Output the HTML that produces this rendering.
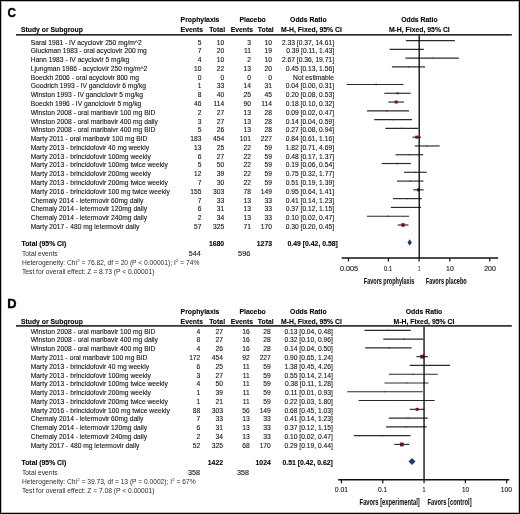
<!DOCTYPE html>
<html><head><meta charset="utf-8"><style>
html,body{margin:0;padding:0;background:#fff;}
body{width:520px;height:514px;overflow:hidden;}
svg{display:block;font-family:"Liberation Sans",sans-serif;will-change:transform;}
text{stroke:#111;stroke-width:0.1px;}
</style></head><body>
<svg width="520" height="514" viewBox="0 0 520 514">
<rect x="0" y="0" width="520" height="514" fill="#fff"/>
<text x="7.62" y="16.80" font-size="12.6" font-weight="bold" text-anchor="start" fill="#000" textLength="8.50" lengthAdjust="spacingAndGlyphs" style="stroke:#000;stroke-width:0.35px">C</text>
<text x="180.60" y="22.00" font-size="6.85" font-weight="bold" text-anchor="start" fill="#000" >Prophylaxis</text>
<text x="239.50" y="22.00" font-size="6.85" font-weight="bold" text-anchor="start" fill="#000" >Placebo</text>
<text x="290.10" y="22.00" font-size="6.85" font-weight="bold" text-anchor="start" fill="#000" >Odds Ratio</text>
<text x="401.20" y="22.00" font-size="6.85" font-weight="bold" text-anchor="start" fill="#000" >Odds Ratio</text>
<text x="20.90" y="32.10" font-size="6.85" font-weight="bold" text-anchor="start" fill="#000" >Study or Subgroup</text>
<text x="180.60" y="32.10" font-size="6.85" font-weight="bold" text-anchor="start" fill="#000" >Events</text>
<text x="209.20" y="32.10" font-size="6.85" font-weight="bold" text-anchor="start" fill="#000" >Total</text>
<text x="230.70" y="32.10" font-size="6.85" font-weight="bold" text-anchor="start" fill="#000" >Events</text>
<text x="257.80" y="32.10" font-size="6.85" font-weight="bold" text-anchor="start" fill="#000" >Total</text>
<text x="281.10" y="32.10" font-size="6.85" font-weight="bold" text-anchor="start" fill="#000" >M-H, Fixed, 95% CI</text>
<text x="388.90" y="32.10" font-size="6.85" font-weight="bold" text-anchor="start" fill="#000" >M-H, Fixed, 95% CI</text>
<rect x="16.00" y="34.00" width="495.80" height="1.60" fill="#222"/>
<text x="30.80" y="44.50" font-size="6.7" font-weight="normal" text-anchor="start" fill="#111" >Saral 1981 - IV acyclovir 250 mg/m^2</text>
<text x="201.50" y="44.50" font-size="6.7" font-weight="normal" text-anchor="end" fill="#111" >5</text>
<text x="224.20" y="44.50" font-size="6.7" font-weight="normal" text-anchor="end" fill="#111" >10</text>
<text x="251.00" y="44.50" font-size="6.7" font-weight="normal" text-anchor="end" fill="#111" >3</text>
<text x="272.00" y="44.50" font-size="6.7" font-weight="normal" text-anchor="end" fill="#111" >10</text>
<text x="334.00" y="44.50" font-size="6.7" font-weight="normal" text-anchor="end" fill="#111" >2.33 [0.37, 14.61]</text>
<line x1="405.84" y1="40.60" x2="454.85" y2="40.60" stroke="#2a2a2a" stroke-width="1.15"/>
<rect x="429.88" y="40.10" width="1.00" height="1.00" fill="#6e1030"/>
<text x="30.80" y="53.28" font-size="6.7" font-weight="normal" text-anchor="start" fill="#111" >Gluckman 1983 - oral acyclovir 200 mg</text>
<text x="201.50" y="53.28" font-size="6.7" font-weight="normal" text-anchor="end" fill="#111" >7</text>
<text x="224.20" y="53.28" font-size="6.7" font-weight="normal" text-anchor="end" fill="#111" >20</text>
<text x="251.00" y="53.28" font-size="6.7" font-weight="normal" text-anchor="end" fill="#111" >11</text>
<text x="272.00" y="53.28" font-size="6.7" font-weight="normal" text-anchor="end" fill="#111" >19</text>
<text x="334.00" y="53.28" font-size="6.7" font-weight="normal" text-anchor="end" fill="#111" >0.39 [0.11, 1.43]</text>
<line x1="389.67" y1="49.38" x2="423.87" y2="49.38" stroke="#2a2a2a" stroke-width="1.15"/>
<rect x="406.05" y="48.88" width="1.00" height="1.00" fill="#6e1030"/>
<text x="30.80" y="62.06" font-size="6.7" font-weight="normal" text-anchor="start" fill="#111" >Hann 1983 - IV acyclovir 5 mg/kg</text>
<text x="201.50" y="62.06" font-size="6.7" font-weight="normal" text-anchor="end" fill="#111" >4</text>
<text x="224.20" y="62.06" font-size="6.7" font-weight="normal" text-anchor="end" fill="#111" >10</text>
<text x="251.00" y="62.06" font-size="6.7" font-weight="normal" text-anchor="end" fill="#111" >2</text>
<text x="272.00" y="62.06" font-size="6.7" font-weight="normal" text-anchor="end" fill="#111" >10</text>
<text x="334.00" y="62.06" font-size="6.7" font-weight="normal" text-anchor="end" fill="#111" >2.67 [0.36, 19.71]</text>
<line x1="405.48" y1="58.16" x2="458.85" y2="58.16" stroke="#2a2a2a" stroke-width="1.15"/>
<rect x="431.69" y="57.66" width="1.00" height="1.00" fill="#6e1030"/>
<text x="30.80" y="70.84" font-size="6.7" font-weight="normal" text-anchor="start" fill="#111" >Ljungman 1986 - acyclovir 250 mg/m^2</text>
<text x="201.50" y="70.84" font-size="6.7" font-weight="normal" text-anchor="end" fill="#111" >10</text>
<text x="224.20" y="70.84" font-size="6.7" font-weight="normal" text-anchor="end" fill="#111" >22</text>
<text x="251.00" y="70.84" font-size="6.7" font-weight="normal" text-anchor="end" fill="#111" >13</text>
<text x="272.00" y="70.84" font-size="6.7" font-weight="normal" text-anchor="end" fill="#111" >20</text>
<text x="334.00" y="70.84" font-size="6.7" font-weight="normal" text-anchor="end" fill="#111" >0.45 [0.13, 1.56]</text>
<line x1="391.90" y1="66.94" x2="425.03" y2="66.94" stroke="#2a2a2a" stroke-width="1.15"/>
<rect x="407.95" y="66.44" width="1.00" height="1.00" fill="#6e1030"/>
<text x="30.80" y="79.62" font-size="6.7" font-weight="normal" text-anchor="start" fill="#111" >Boeckh 2006 -  oral acyclovir 800 mg</text>
<text x="201.50" y="79.62" font-size="6.7" font-weight="normal" text-anchor="end" fill="#111" >0</text>
<text x="224.20" y="79.62" font-size="6.7" font-weight="normal" text-anchor="end" fill="#111" >0</text>
<text x="251.00" y="79.62" font-size="6.7" font-weight="normal" text-anchor="end" fill="#111" >0</text>
<text x="272.00" y="79.62" font-size="6.7" font-weight="normal" text-anchor="end" fill="#111" >0</text>
<text x="334.00" y="79.62" font-size="6.7" font-weight="normal" text-anchor="end" fill="#111" >Not estimable</text>
<text x="30.80" y="88.40" font-size="6.7" font-weight="normal" text-anchor="start" fill="#111" >Goodrich 1993 - IV ganciclovir 6 mg/kg</text>
<text x="201.50" y="88.40" font-size="6.7" font-weight="normal" text-anchor="end" fill="#111" >1</text>
<text x="224.20" y="88.40" font-size="6.7" font-weight="normal" text-anchor="end" fill="#111" >33</text>
<text x="251.00" y="88.40" font-size="6.7" font-weight="normal" text-anchor="end" fill="#111" >14</text>
<text x="272.00" y="88.40" font-size="6.7" font-weight="normal" text-anchor="end" fill="#111" >31</text>
<text x="334.00" y="88.40" font-size="6.7" font-weight="normal" text-anchor="end" fill="#111" >0.04 [0.00, 0.31]</text>
<line x1="346.60" y1="84.50" x2="403.48" y2="84.50" stroke="#2a2a2a" stroke-width="1.15"/>
<rect x="375.43" y="83.75" width="1.50" height="1.50" fill="#6e1030"/>
<text x="30.80" y="97.18" font-size="6.7" font-weight="normal" text-anchor="start" fill="#111" >Winston 1993 - IV ganciclovir 5 mg/kg</text>
<text x="201.50" y="97.18" font-size="6.7" font-weight="normal" text-anchor="end" fill="#111" >8</text>
<text x="224.20" y="97.18" font-size="6.7" font-weight="normal" text-anchor="end" fill="#111" >40</text>
<text x="251.00" y="97.18" font-size="6.7" font-weight="normal" text-anchor="end" fill="#111" >25</text>
<text x="272.00" y="97.18" font-size="6.7" font-weight="normal" text-anchor="end" fill="#111" >45</text>
<text x="334.00" y="97.18" font-size="6.7" font-weight="normal" text-anchor="end" fill="#111" >0.20 [0.08, 0.53]</text>
<line x1="384.30" y1="93.28" x2="410.64" y2="93.28" stroke="#2a2a2a" stroke-width="1.15"/>
<rect x="396.64" y="92.28" width="2.00" height="2.00" fill="#6e1030"/>
<text x="30.80" y="105.96" font-size="6.7" font-weight="normal" text-anchor="start" fill="#111" >Boeckh 1996 - IV ganciclovir 5 mg/kg</text>
<text x="201.50" y="105.96" font-size="6.7" font-weight="normal" text-anchor="end" fill="#111" >46</text>
<text x="224.20" y="105.96" font-size="6.7" font-weight="normal" text-anchor="end" fill="#111" >114</text>
<text x="251.00" y="105.96" font-size="6.7" font-weight="normal" text-anchor="end" fill="#111" >90</text>
<text x="272.00" y="105.96" font-size="6.7" font-weight="normal" text-anchor="end" fill="#111" >114</text>
<text x="334.00" y="105.96" font-size="6.7" font-weight="normal" text-anchor="end" fill="#111" >0.18 [0.10, 0.32]</text>
<line x1="388.40" y1="102.06" x2="403.91" y2="102.06" stroke="#2a2a2a" stroke-width="1.15"/>
<rect x="394.74" y="100.56" width="3.00" height="3.00" fill="#6e1030"/>
<text x="30.80" y="114.74" font-size="6.7" font-weight="normal" text-anchor="start" fill="#111" >Winston 2008 - oral maribavir 100 mg BID</text>
<text x="201.50" y="114.74" font-size="6.7" font-weight="normal" text-anchor="end" fill="#111" >2</text>
<text x="224.20" y="114.74" font-size="6.7" font-weight="normal" text-anchor="end" fill="#111" >27</text>
<text x="251.00" y="114.74" font-size="6.7" font-weight="normal" text-anchor="end" fill="#111" >13</text>
<text x="272.00" y="114.74" font-size="6.7" font-weight="normal" text-anchor="end" fill="#111" >28</text>
<text x="334.00" y="114.74" font-size="6.7" font-weight="normal" text-anchor="end" fill="#111" >0.09 [0.02, 0.47]</text>
<line x1="366.94" y1="110.84" x2="409.03" y2="110.84" stroke="#2a2a2a" stroke-width="1.15"/>
<rect x="386.40" y="110.24" width="1.20" height="1.20" fill="#6e1030"/>
<text x="30.80" y="123.52" font-size="6.7" font-weight="normal" text-anchor="start" fill="#111" >Winston 2008 - oral maribavir 400 mg daily</text>
<text x="201.50" y="123.52" font-size="6.7" font-weight="normal" text-anchor="end" fill="#111" >3</text>
<text x="224.20" y="123.52" font-size="6.7" font-weight="normal" text-anchor="end" fill="#111" >27</text>
<text x="251.00" y="123.52" font-size="6.7" font-weight="normal" text-anchor="end" fill="#111" >13</text>
<text x="272.00" y="123.52" font-size="6.7" font-weight="normal" text-anchor="end" fill="#111" >28</text>
<text x="334.00" y="123.52" font-size="6.7" font-weight="normal" text-anchor="end" fill="#111" >0.14 [0.04, 0.59]</text>
<line x1="374.20" y1="119.62" x2="412.07" y2="119.62" stroke="#2a2a2a" stroke-width="1.15"/>
<rect x="392.29" y="119.02" width="1.20" height="1.20" fill="#6e1030"/>
<text x="30.80" y="132.30" font-size="6.7" font-weight="normal" text-anchor="start" fill="#111" >Winston 2008 - oral maribaivr 400 mg BID</text>
<text x="201.50" y="132.30" font-size="6.7" font-weight="normal" text-anchor="end" fill="#111" >5</text>
<text x="224.20" y="132.30" font-size="6.7" font-weight="normal" text-anchor="end" fill="#111" >26</text>
<text x="251.00" y="132.30" font-size="6.7" font-weight="normal" text-anchor="end" fill="#111" >13</text>
<text x="272.00" y="132.30" font-size="6.7" font-weight="normal" text-anchor="end" fill="#111" >28</text>
<text x="334.00" y="132.30" font-size="6.7" font-weight="normal" text-anchor="end" fill="#111" >0.27 [0.08, 0.94]</text>
<line x1="385.42" y1="128.40" x2="418.28" y2="128.40" stroke="#2a2a2a" stroke-width="1.15"/>
<rect x="401.04" y="127.80" width="1.20" height="1.20" fill="#6e1030"/>
<text x="30.80" y="141.08" font-size="6.7" font-weight="normal" text-anchor="start" fill="#111" >Marty 2011 - oral maribavir 100 mg BID</text>
<text x="201.50" y="141.08" font-size="6.7" font-weight="normal" text-anchor="end" fill="#111" >183</text>
<text x="224.20" y="141.08" font-size="6.7" font-weight="normal" text-anchor="end" fill="#111" >454</text>
<text x="251.00" y="141.08" font-size="6.7" font-weight="normal" text-anchor="end" fill="#111" >101</text>
<text x="272.00" y="141.08" font-size="6.7" font-weight="normal" text-anchor="end" fill="#111" >227</text>
<text x="334.00" y="141.08" font-size="6.7" font-weight="normal" text-anchor="end" fill="#111" >0.84 [0.61, 1.16]</text>
<line x1="412.51" y1="137.18" x2="421.08" y2="137.18" stroke="#2a2a2a" stroke-width="1.15"/>
<rect x="415.28" y="135.68" width="3.00" height="3.00" fill="#6e1030"/>
<text x="30.80" y="149.86" font-size="6.7" font-weight="normal" text-anchor="start" fill="#111" >Marty 2013 - brincidofovir 40 mg weekly</text>
<text x="201.50" y="149.86" font-size="6.7" font-weight="normal" text-anchor="end" fill="#111" >13</text>
<text x="224.20" y="149.86" font-size="6.7" font-weight="normal" text-anchor="end" fill="#111" >25</text>
<text x="251.00" y="149.86" font-size="6.7" font-weight="normal" text-anchor="end" fill="#111" >22</text>
<text x="272.00" y="149.86" font-size="6.7" font-weight="normal" text-anchor="end" fill="#111" >59</text>
<text x="334.00" y="149.86" font-size="6.7" font-weight="normal" text-anchor="end" fill="#111" >1.82 [0.71, 4.69]</text>
<line x1="414.53" y1="145.96" x2="439.71" y2="145.96" stroke="#2a2a2a" stroke-width="1.15"/>
<rect x="426.48" y="145.36" width="1.20" height="1.20" fill="#6e1030"/>
<text x="30.80" y="158.64" font-size="6.7" font-weight="normal" text-anchor="start" fill="#111" >Marty 2013 - brincidofovir 100mg weekly</text>
<text x="201.50" y="158.64" font-size="6.7" font-weight="normal" text-anchor="end" fill="#111" >6</text>
<text x="224.20" y="158.64" font-size="6.7" font-weight="normal" text-anchor="end" fill="#111" >27</text>
<text x="251.00" y="158.64" font-size="6.7" font-weight="normal" text-anchor="end" fill="#111" >22</text>
<text x="272.00" y="158.64" font-size="6.7" font-weight="normal" text-anchor="end" fill="#111" >59</text>
<text x="334.00" y="158.64" font-size="6.7" font-weight="normal" text-anchor="end" fill="#111" >0.48 [0.17, 1.37]</text>
<line x1="395.47" y1="154.74" x2="423.30" y2="154.74" stroke="#2a2a2a" stroke-width="1.15"/>
<rect x="408.71" y="154.14" width="1.20" height="1.20" fill="#6e1030"/>
<text x="30.80" y="167.42" font-size="6.7" font-weight="normal" text-anchor="start" fill="#111" >Marty 2013 - brincidofovir 100mg twice weekly</text>
<text x="201.50" y="167.42" font-size="6.7" font-weight="normal" text-anchor="end" fill="#111" >5</text>
<text x="224.20" y="167.42" font-size="6.7" font-weight="normal" text-anchor="end" fill="#111" >50</text>
<text x="251.00" y="167.42" font-size="6.7" font-weight="normal" text-anchor="end" fill="#111" >22</text>
<text x="272.00" y="167.42" font-size="6.7" font-weight="normal" text-anchor="end" fill="#111" >59</text>
<text x="334.00" y="167.42" font-size="6.7" font-weight="normal" text-anchor="end" fill="#111" >0.19 [0.06, 0.54]</text>
<line x1="381.59" y1="163.52" x2="410.88" y2="163.52" stroke="#2a2a2a" stroke-width="1.15"/>
<rect x="396.21" y="162.77" width="1.50" height="1.50" fill="#6e1030"/>
<text x="30.80" y="176.20" font-size="6.7" font-weight="normal" text-anchor="start" fill="#111" >Marty 2013 - brincidofovir 200mg weekly</text>
<text x="201.50" y="176.20" font-size="6.7" font-weight="normal" text-anchor="end" fill="#111" >12</text>
<text x="224.20" y="176.20" font-size="6.7" font-weight="normal" text-anchor="end" fill="#111" >39</text>
<text x="251.00" y="176.20" font-size="6.7" font-weight="normal" text-anchor="end" fill="#111" >22</text>
<text x="272.00" y="176.20" font-size="6.7" font-weight="normal" text-anchor="end" fill="#111" >59</text>
<text x="334.00" y="176.20" font-size="6.7" font-weight="normal" text-anchor="end" fill="#111" >0.75 [0.32, 1.77]</text>
<line x1="403.91" y1="172.30" x2="426.71" y2="172.30" stroke="#2a2a2a" stroke-width="1.15"/>
<rect x="414.66" y="171.70" width="1.20" height="1.20" fill="#6e1030"/>
<text x="30.80" y="184.98" font-size="6.7" font-weight="normal" text-anchor="start" fill="#111" >Marty 2013 - brincidofovir 200mg twice weekly</text>
<text x="201.50" y="184.98" font-size="6.7" font-weight="normal" text-anchor="end" fill="#111" >7</text>
<text x="224.20" y="184.98" font-size="6.7" font-weight="normal" text-anchor="end" fill="#111" >30</text>
<text x="251.00" y="184.98" font-size="6.7" font-weight="normal" text-anchor="end" fill="#111" >22</text>
<text x="272.00" y="184.98" font-size="6.7" font-weight="normal" text-anchor="end" fill="#111" >59</text>
<text x="334.00" y="184.98" font-size="6.7" font-weight="normal" text-anchor="end" fill="#111" >0.51 [0.19, 1.39]</text>
<line x1="396.96" y1="181.08" x2="423.49" y2="181.08" stroke="#2a2a2a" stroke-width="1.15"/>
<rect x="409.52" y="180.48" width="1.20" height="1.20" fill="#6e1030"/>
<text x="30.80" y="193.76" font-size="6.7" font-weight="normal" text-anchor="start" fill="#111" >Marty 2016 - brincidofovir 100 mg twice weekly</text>
<text x="201.50" y="193.76" font-size="6.7" font-weight="normal" text-anchor="end" fill="#111" >155</text>
<text x="224.20" y="193.76" font-size="6.7" font-weight="normal" text-anchor="end" fill="#111" >303</text>
<text x="251.00" y="193.76" font-size="6.7" font-weight="normal" text-anchor="end" fill="#111" >78</text>
<text x="272.00" y="193.76" font-size="6.7" font-weight="normal" text-anchor="end" fill="#111" >149</text>
<text x="334.00" y="193.76" font-size="6.7" font-weight="normal" text-anchor="end" fill="#111" >0.95 [0.64, 1.41]</text>
<line x1="413.15" y1="189.86" x2="423.68" y2="189.86" stroke="#2a2a2a" stroke-width="1.15"/>
<rect x="416.92" y="188.36" width="3.00" height="3.00" fill="#6e1030"/>
<text x="30.80" y="202.54" font-size="6.7" font-weight="normal" text-anchor="start" fill="#111" >Chemaly 2014 - letermovir 60mg daily</text>
<text x="201.50" y="202.54" font-size="6.7" font-weight="normal" text-anchor="end" fill="#111" >7</text>
<text x="224.20" y="202.54" font-size="6.7" font-weight="normal" text-anchor="end" fill="#111" >33</text>
<text x="251.00" y="202.54" font-size="6.7" font-weight="normal" text-anchor="end" fill="#111" >13</text>
<text x="272.00" y="202.54" font-size="6.7" font-weight="normal" text-anchor="end" fill="#111" >33</text>
<text x="334.00" y="202.54" font-size="6.7" font-weight="normal" text-anchor="end" fill="#111" >0.41 [0.14, 1.23]</text>
<line x1="392.89" y1="198.64" x2="421.86" y2="198.64" stroke="#2a2a2a" stroke-width="1.15"/>
<rect x="406.61" y="198.04" width="1.20" height="1.20" fill="#6e1030"/>
<text x="30.80" y="211.32" font-size="6.7" font-weight="normal" text-anchor="start" fill="#111" >Chemaly 2014 - letermovir 120mg daily</text>
<text x="201.50" y="211.32" font-size="6.7" font-weight="normal" text-anchor="end" fill="#111" >6</text>
<text x="224.20" y="211.32" font-size="6.7" font-weight="normal" text-anchor="end" fill="#111" >31</text>
<text x="251.00" y="211.32" font-size="6.7" font-weight="normal" text-anchor="end" fill="#111" >13</text>
<text x="272.00" y="211.32" font-size="6.7" font-weight="normal" text-anchor="end" fill="#111" >33</text>
<text x="334.00" y="211.32" font-size="6.7" font-weight="normal" text-anchor="end" fill="#111" >0.37 [0.12, 1.15]</text>
<line x1="390.83" y1="207.42" x2="420.96" y2="207.42" stroke="#2a2a2a" stroke-width="1.15"/>
<rect x="405.24" y="206.82" width="1.20" height="1.20" fill="#6e1030"/>
<text x="30.80" y="220.10" font-size="6.7" font-weight="normal" text-anchor="start" fill="#111" >Chemaly 2014 - letermovir 240mg daily</text>
<text x="201.50" y="220.10" font-size="6.7" font-weight="normal" text-anchor="end" fill="#111" >2</text>
<text x="224.20" y="220.10" font-size="6.7" font-weight="normal" text-anchor="end" fill="#111" >34</text>
<text x="251.00" y="220.10" font-size="6.7" font-weight="normal" text-anchor="end" fill="#111" >13</text>
<text x="272.00" y="220.10" font-size="6.7" font-weight="normal" text-anchor="end" fill="#111" >33</text>
<text x="334.00" y="220.10" font-size="6.7" font-weight="normal" text-anchor="end" fill="#111" >0.10 [0.02, 0.47]</text>
<line x1="366.94" y1="216.20" x2="409.03" y2="216.20" stroke="#2a2a2a" stroke-width="1.15"/>
<rect x="387.80" y="215.60" width="1.20" height="1.20" fill="#6e1030"/>
<text x="30.80" y="228.88" font-size="6.7" font-weight="normal" text-anchor="start" fill="#111" >Marty 2017 - 480 mg letermovir daily</text>
<text x="201.50" y="228.88" font-size="6.7" font-weight="normal" text-anchor="end" fill="#111" >57</text>
<text x="224.20" y="228.88" font-size="6.7" font-weight="normal" text-anchor="end" fill="#111" >325</text>
<text x="251.00" y="228.88" font-size="6.7" font-weight="normal" text-anchor="end" fill="#111" >71</text>
<text x="272.00" y="228.88" font-size="6.7" font-weight="normal" text-anchor="end" fill="#111" >170</text>
<text x="334.00" y="228.88" font-size="6.7" font-weight="normal" text-anchor="end" fill="#111" >0.30 [0.20, 0.45]</text>
<line x1="397.64" y1="224.98" x2="408.45" y2="224.98" stroke="#2a2a2a" stroke-width="1.15"/>
<rect x="401.30" y="223.23" width="3.50" height="3.50" fill="#6e1030"/>
<text x="21.50" y="245.60" font-size="6.85" font-weight="bold" text-anchor="start" fill="#000" >Total (95% CI)</text>
<text x="224.20" y="245.60" font-size="6.85" font-weight="bold" text-anchor="end" fill="#000" >1680</text>
<text x="272.00" y="245.60" font-size="6.85" font-weight="bold" text-anchor="end" fill="#000" >1273</text>
<text x="337.80" y="245.60" font-size="6.85" font-weight="bold" text-anchor="end" fill="#000" >0.49 [0.42, 0.58]</text>
<polygon points="407.53,242.50 409.59,239.20 411.84,242.50 409.59,245.80" fill="#22386a"/>
<text x="22.00" y="255.80" font-size="6.7" font-weight="normal" text-anchor="start" fill="#111" style="stroke-width:0px;fill:#2a2a2a">Total events</text>
<text x="188.71" y="255.80" font-size="6.7" font-weight="normal" text-anchor="start" fill="#111" textLength="11.90" lengthAdjust="spacingAndGlyphs" >544</text>
<text x="238.10" y="255.80" font-size="6.7" font-weight="normal" text-anchor="start" fill="#111" textLength="12.43" lengthAdjust="spacingAndGlyphs" >596</text>
<text x="22" y="265.20" font-size="6.65" fill="#2a2a2a" style="stroke-width:0px">Heterogeneity: Chi<tspan font-size="4.3" dx="0.3" dy="-2.9">2</tspan><tspan dy="2.9"> = 76.82, df = 20 (P &lt; 0.00001); I</tspan><tspan font-size="4.3" dx="0.3" dy="-2.9">2</tspan><tspan dy="2.9"> = 74%</tspan></text>
<text x="22.00" y="273.60" font-size="6.7" font-weight="normal" text-anchor="start" fill="#111" style="stroke-width:0px;fill:#2a2a2a">Test for overall effect: Z = 8.73 (P &lt; 0.00001)</text>
<line x1="419.20" y1="35.60" x2="419.20" y2="258.00" stroke="#000" stroke-width="1.3"/>
<line x1="341.70" y1="258.00" x2="498.20" y2="258.00" stroke="#111" stroke-width="1.5"/>
<line x1="348.46" y1="258.00" x2="348.46" y2="261.50" stroke="#111" stroke-width="1.2"/>
<text x="339.92" y="270.80" font-size="7.0" font-weight="normal" text-anchor="start" fill="#111" textLength="18.19" lengthAdjust="spacingAndGlyphs" >0.005</text>
<line x1="388.40" y1="258.00" x2="388.40" y2="261.50" stroke="#111" stroke-width="1.2"/>
<text x="383.97" y="270.80" font-size="7.0" font-weight="normal" text-anchor="start" fill="#111" textLength="8.22" lengthAdjust="spacingAndGlyphs" >0.1</text>
<line x1="419.10" y1="258.00" x2="419.10" y2="261.50" stroke="#111" stroke-width="1.2"/>
<text x="418.08" y="270.80" font-size="7.0" font-weight="normal" text-anchor="start" fill="#111" textLength="2.32" lengthAdjust="spacingAndGlyphs" >1</text>
<line x1="449.80" y1="258.00" x2="449.80" y2="261.50" stroke="#111" stroke-width="1.2"/>
<text x="446.07" y="270.80" font-size="7.0" font-weight="normal" text-anchor="start" fill="#111" textLength="7.70" lengthAdjust="spacingAndGlyphs" >10</text>
<line x1="489.74" y1="258.00" x2="489.74" y2="261.50" stroke="#111" stroke-width="1.2"/>
<text x="484.25" y="270.80" font-size="7.0" font-weight="normal" text-anchor="start" fill="#111" textLength="11.62" lengthAdjust="spacingAndGlyphs" >200</text>
<text x="363.83" y="283.70" font-size="8.9" font-weight="bold" text-anchor="start" fill="#111" textLength="50.39" lengthAdjust="spacingAndGlyphs" style="stroke:#111;stroke-width:0.05px">Favors prophylaxis</text>
<text x="425.73" y="283.70" font-size="8.9" font-weight="bold" text-anchor="start" fill="#111" textLength="40.99" lengthAdjust="spacingAndGlyphs" style="stroke:#111;stroke-width:0.05px">Favors placebo</text>
<text x="7.34" y="307.60" font-size="12.6" font-weight="bold" text-anchor="start" fill="#000" textLength="9.31" lengthAdjust="spacingAndGlyphs" style="stroke:#000;stroke-width:0.35px">D</text>
<text x="180.60" y="313.80" font-size="6.85" font-weight="bold" text-anchor="start" fill="#000" >Prophylaxis</text>
<text x="239.50" y="313.80" font-size="6.85" font-weight="bold" text-anchor="start" fill="#000" >Placebo</text>
<text x="290.10" y="313.80" font-size="6.85" font-weight="bold" text-anchor="start" fill="#000" >Odds Ratio</text>
<text x="405.80" y="313.80" font-size="6.85" font-weight="bold" text-anchor="start" fill="#000" >Odds Ratio</text>
<text x="20.90" y="323.50" font-size="6.85" font-weight="bold" text-anchor="start" fill="#000" >Study or Subgroup</text>
<text x="180.60" y="323.50" font-size="6.85" font-weight="bold" text-anchor="start" fill="#000" >Events</text>
<text x="209.20" y="323.50" font-size="6.85" font-weight="bold" text-anchor="start" fill="#000" >Total</text>
<text x="230.70" y="323.50" font-size="6.85" font-weight="bold" text-anchor="start" fill="#000" >Events</text>
<text x="257.80" y="323.50" font-size="6.85" font-weight="bold" text-anchor="start" fill="#000" >Total</text>
<text x="281.10" y="323.50" font-size="6.85" font-weight="bold" text-anchor="start" fill="#000" >M-H, Fixed, 95% CI</text>
<text x="393.50" y="323.50" font-size="6.85" font-weight="bold" text-anchor="start" fill="#000" >M-H, Fixed, 95% CI</text>
<rect x="16.00" y="325.10" width="495.80" height="1.60" fill="#222"/>
<text x="30.80" y="333.60" font-size="6.7" font-weight="normal" text-anchor="start" fill="#111" >Winston 2008 - oral maribavir 100 mg BID</text>
<text x="200.30" y="333.60" font-size="6.7" font-weight="normal" text-anchor="end" fill="#111" >4</text>
<text x="223.00" y="333.60" font-size="6.7" font-weight="normal" text-anchor="end" fill="#111" >27</text>
<text x="249.80" y="333.60" font-size="6.7" font-weight="normal" text-anchor="end" fill="#111" >16</text>
<text x="270.80" y="333.60" font-size="6.7" font-weight="normal" text-anchor="end" fill="#111" >28</text>
<text x="332.80" y="333.60" font-size="6.7" font-weight="normal" text-anchor="end" fill="#111" >0.13 [0.04, 0.48]</text>
<line x1="364.40" y1="330.30" x2="410.89" y2="330.30" stroke="#2a2a2a" stroke-width="1.15"/>
<rect x="386.86" y="329.70" width="1.20" height="1.20" fill="#6e1030"/>
<text x="30.80" y="342.38" font-size="6.7" font-weight="normal" text-anchor="start" fill="#111" >Winston 2008 - oral maribavir 400 mg daily</text>
<text x="200.30" y="342.38" font-size="6.7" font-weight="normal" text-anchor="end" fill="#111" >8</text>
<text x="223.00" y="342.38" font-size="6.7" font-weight="normal" text-anchor="end" fill="#111" >27</text>
<text x="249.80" y="342.38" font-size="6.7" font-weight="normal" text-anchor="end" fill="#111" >16</text>
<text x="270.80" y="342.38" font-size="6.7" font-weight="normal" text-anchor="end" fill="#111" >28</text>
<text x="332.80" y="342.38" font-size="6.7" font-weight="normal" text-anchor="end" fill="#111" >0.32 [0.10, 0.96]</text>
<line x1="383.30" y1="339.08" x2="423.32" y2="339.08" stroke="#2a2a2a" stroke-width="1.15"/>
<rect x="403.01" y="338.48" width="1.20" height="1.20" fill="#6e1030"/>
<text x="30.80" y="351.16" font-size="6.7" font-weight="normal" text-anchor="start" fill="#111" >Winston 2008 - oral maribavir 400 mg BID</text>
<text x="200.30" y="351.16" font-size="6.7" font-weight="normal" text-anchor="end" fill="#111" >4</text>
<text x="223.00" y="351.16" font-size="6.7" font-weight="normal" text-anchor="end" fill="#111" >26</text>
<text x="249.80" y="351.16" font-size="6.7" font-weight="normal" text-anchor="end" fill="#111" >16</text>
<text x="270.80" y="351.16" font-size="6.7" font-weight="normal" text-anchor="end" fill="#111" >28</text>
<text x="332.80" y="351.16" font-size="6.7" font-weight="normal" text-anchor="end" fill="#111" >0.14 [0.04, 0.50]</text>
<line x1="365.20" y1="347.86" x2="411.62" y2="347.86" stroke="#2a2a2a" stroke-width="1.15"/>
<rect x="388.19" y="347.26" width="1.20" height="1.20" fill="#6e1030"/>
<text x="30.80" y="359.94" font-size="6.7" font-weight="normal" text-anchor="start" fill="#111" >Marty 2011 - oral maribavir 100 mg BID</text>
<text x="200.30" y="359.94" font-size="6.7" font-weight="normal" text-anchor="end" fill="#111" >172</text>
<text x="223.00" y="359.94" font-size="6.7" font-weight="normal" text-anchor="end" fill="#111" >454</text>
<text x="249.80" y="359.94" font-size="6.7" font-weight="normal" text-anchor="end" fill="#111" >92</text>
<text x="270.80" y="359.94" font-size="6.7" font-weight="normal" text-anchor="end" fill="#111" >227</text>
<text x="332.80" y="359.94" font-size="6.7" font-weight="normal" text-anchor="end" fill="#111" >0.90 [0.65, 1.24]</text>
<line x1="416.32" y1="356.64" x2="427.91" y2="356.64" stroke="#2a2a2a" stroke-width="1.15"/>
<rect x="420.26" y="354.74" width="3.80" height="3.80" fill="#6e1030"/>
<text x="30.80" y="368.72" font-size="6.7" font-weight="normal" text-anchor="start" fill="#111" >Marty 2013 - brincidofovir 40 mg weekly</text>
<text x="200.30" y="368.72" font-size="6.7" font-weight="normal" text-anchor="end" fill="#111" >6</text>
<text x="223.00" y="368.72" font-size="6.7" font-weight="normal" text-anchor="end" fill="#111" >25</text>
<text x="249.80" y="368.72" font-size="6.7" font-weight="normal" text-anchor="end" fill="#111" >11</text>
<text x="270.80" y="368.72" font-size="6.7" font-weight="normal" text-anchor="end" fill="#111" >59</text>
<text x="332.80" y="368.72" font-size="6.7" font-weight="normal" text-anchor="end" fill="#111" >1.38 [0.45, 4.26]</text>
<line x1="409.73" y1="365.42" x2="450.04" y2="365.42" stroke="#2a2a2a" stroke-width="1.15"/>
<rect x="429.33" y="364.92" width="1.00" height="1.00" fill="#6e1030"/>
<text x="30.80" y="377.50" font-size="6.7" font-weight="normal" text-anchor="start" fill="#111" >Marty 2013 - brincidofovir 100mg weekly</text>
<text x="200.30" y="377.50" font-size="6.7" font-weight="normal" text-anchor="end" fill="#111" >3</text>
<text x="223.00" y="377.50" font-size="6.7" font-weight="normal" text-anchor="end" fill="#111" >27</text>
<text x="249.80" y="377.50" font-size="6.7" font-weight="normal" text-anchor="end" fill="#111" >11</text>
<text x="270.80" y="377.50" font-size="6.7" font-weight="normal" text-anchor="end" fill="#111" >59</text>
<text x="332.80" y="377.50" font-size="6.7" font-weight="normal" text-anchor="end" fill="#111" >0.55 [0.14, 2.14]</text>
<line x1="388.79" y1="374.20" x2="437.70" y2="374.20" stroke="#2a2a2a" stroke-width="1.15"/>
<rect x="412.83" y="373.70" width="1.00" height="1.00" fill="#6e1030"/>
<text x="30.80" y="386.28" font-size="6.7" font-weight="normal" text-anchor="start" fill="#111" >Marty 2013 - brincidofovir 100mg twice weekly</text>
<text x="200.30" y="386.28" font-size="6.7" font-weight="normal" text-anchor="end" fill="#111" >4</text>
<text x="223.00" y="386.28" font-size="6.7" font-weight="normal" text-anchor="end" fill="#111" >50</text>
<text x="249.80" y="386.28" font-size="6.7" font-weight="normal" text-anchor="end" fill="#111" >11</text>
<text x="270.80" y="386.28" font-size="6.7" font-weight="normal" text-anchor="end" fill="#111" >59</text>
<text x="332.80" y="386.28" font-size="6.7" font-weight="normal" text-anchor="end" fill="#111" >0.38 [0.11, 1.28]</text>
<line x1="384.46" y1="382.98" x2="428.48" y2="382.98" stroke="#2a2a2a" stroke-width="1.15"/>
<rect x="406.20" y="382.48" width="1.00" height="1.00" fill="#6e1030"/>
<text x="30.80" y="395.06" font-size="6.7" font-weight="normal" text-anchor="start" fill="#111" >Marty 2013 - brincidofovir 200mg weekly</text>
<text x="200.30" y="395.06" font-size="6.7" font-weight="normal" text-anchor="end" fill="#111" >1</text>
<text x="223.00" y="395.06" font-size="6.7" font-weight="normal" text-anchor="end" fill="#111" >39</text>
<text x="249.80" y="395.06" font-size="6.7" font-weight="normal" text-anchor="end" fill="#111" >11</text>
<text x="270.80" y="395.06" font-size="6.7" font-weight="normal" text-anchor="end" fill="#111" >59</text>
<text x="332.80" y="395.06" font-size="6.7" font-weight="normal" text-anchor="end" fill="#111" >0.11 [0.01, 0.93]</text>
<line x1="347.20" y1="391.76" x2="422.75" y2="391.76" stroke="#2a2a2a" stroke-width="1.15"/>
<rect x="383.96" y="391.26" width="1.00" height="1.00" fill="#6e1030"/>
<text x="30.80" y="403.84" font-size="6.7" font-weight="normal" text-anchor="start" fill="#111" >Marty 2013 - brincidofovir 200mg twice weekly</text>
<text x="200.30" y="403.84" font-size="6.7" font-weight="normal" text-anchor="end" fill="#111" >1</text>
<text x="223.00" y="403.84" font-size="6.7" font-weight="normal" text-anchor="end" fill="#111" >21</text>
<text x="249.80" y="403.84" font-size="6.7" font-weight="normal" text-anchor="end" fill="#111" >11</text>
<text x="270.80" y="403.84" font-size="6.7" font-weight="normal" text-anchor="end" fill="#111" >59</text>
<text x="332.80" y="403.84" font-size="6.7" font-weight="normal" text-anchor="end" fill="#111" >0.22 [0.03, 1.80]</text>
<line x1="358.50" y1="400.54" x2="434.59" y2="400.54" stroke="#2a2a2a" stroke-width="1.15"/>
<rect x="396.39" y="400.04" width="1.00" height="1.00" fill="#6e1030"/>
<text x="30.80" y="412.62" font-size="6.7" font-weight="normal" text-anchor="start" fill="#111" >Marty 2016 - brincidofovir 100 mg twice weekly</text>
<text x="200.30" y="412.62" font-size="6.7" font-weight="normal" text-anchor="end" fill="#111" >88</text>
<text x="223.00" y="412.62" font-size="6.7" font-weight="normal" text-anchor="end" fill="#111" >303</text>
<text x="249.80" y="412.62" font-size="6.7" font-weight="normal" text-anchor="end" fill="#111" >56</text>
<text x="270.80" y="412.62" font-size="6.7" font-weight="normal" text-anchor="end" fill="#111" >149</text>
<text x="332.80" y="412.62" font-size="6.7" font-weight="normal" text-anchor="end" fill="#111" >0.68 [0.45, 1.03]</text>
<line x1="409.73" y1="409.32" x2="424.58" y2="409.32" stroke="#2a2a2a" stroke-width="1.15"/>
<rect x="415.63" y="407.82" width="3.00" height="3.00" fill="#6e1030"/>
<text x="30.80" y="421.40" font-size="6.7" font-weight="normal" text-anchor="start" fill="#111" >Chemaly 2014 - letermovir 60mg daily</text>
<text x="200.30" y="421.40" font-size="6.7" font-weight="normal" text-anchor="end" fill="#111" >7</text>
<text x="223.00" y="421.40" font-size="6.7" font-weight="normal" text-anchor="end" fill="#111" >33</text>
<text x="249.80" y="421.40" font-size="6.7" font-weight="normal" text-anchor="end" fill="#111" >13</text>
<text x="270.80" y="421.40" font-size="6.7" font-weight="normal" text-anchor="end" fill="#111" >33</text>
<text x="332.80" y="421.40" font-size="6.7" font-weight="normal" text-anchor="end" fill="#111" >0.41 [0.14, 1.23]</text>
<line x1="388.79" y1="418.10" x2="427.76" y2="418.10" stroke="#2a2a2a" stroke-width="1.15"/>
<rect x="407.46" y="417.50" width="1.20" height="1.20" fill="#6e1030"/>
<text x="30.80" y="430.18" font-size="6.7" font-weight="normal" text-anchor="start" fill="#111" >Chemaly 2014 - letermovir 120mg daily</text>
<text x="200.30" y="430.18" font-size="6.7" font-weight="normal" text-anchor="end" fill="#111" >6</text>
<text x="223.00" y="430.18" font-size="6.7" font-weight="normal" text-anchor="end" fill="#111" >31</text>
<text x="249.80" y="430.18" font-size="6.7" font-weight="normal" text-anchor="end" fill="#111" >13</text>
<text x="270.80" y="430.18" font-size="6.7" font-weight="normal" text-anchor="end" fill="#111" >33</text>
<text x="332.80" y="430.18" font-size="6.7" font-weight="normal" text-anchor="end" fill="#111" >0.37 [0.12, 1.15]</text>
<line x1="386.02" y1="426.88" x2="426.56" y2="426.88" stroke="#2a2a2a" stroke-width="1.15"/>
<rect x="405.62" y="426.28" width="1.20" height="1.20" fill="#6e1030"/>
<text x="30.80" y="438.96" font-size="6.7" font-weight="normal" text-anchor="start" fill="#111" >Chemaly 2014 - letermovir 240mg daily</text>
<text x="200.30" y="438.96" font-size="6.7" font-weight="normal" text-anchor="end" fill="#111" >2</text>
<text x="223.00" y="438.96" font-size="6.7" font-weight="normal" text-anchor="end" fill="#111" >34</text>
<text x="249.80" y="438.96" font-size="6.7" font-weight="normal" text-anchor="end" fill="#111" >13</text>
<text x="270.80" y="438.96" font-size="6.7" font-weight="normal" text-anchor="end" fill="#111" >33</text>
<text x="332.80" y="438.96" font-size="6.7" font-weight="normal" text-anchor="end" fill="#111" >0.10 [0.02, 0.47]</text>
<line x1="353.88" y1="435.66" x2="410.51" y2="435.66" stroke="#2a2a2a" stroke-width="1.15"/>
<rect x="382.15" y="435.06" width="1.20" height="1.20" fill="#6e1030"/>
<text x="30.80" y="447.74" font-size="6.7" font-weight="normal" text-anchor="start" fill="#111" >Marty 2017 - 480 mg letermovir daily</text>
<text x="200.30" y="447.74" font-size="6.7" font-weight="normal" text-anchor="end" fill="#111" >52</text>
<text x="223.00" y="447.74" font-size="6.7" font-weight="normal" text-anchor="end" fill="#111" >325</text>
<text x="249.80" y="447.74" font-size="6.7" font-weight="normal" text-anchor="end" fill="#111" >68</text>
<text x="270.80" y="447.74" font-size="6.7" font-weight="normal" text-anchor="end" fill="#111" >170</text>
<text x="332.80" y="447.74" font-size="6.7" font-weight="normal" text-anchor="end" fill="#111" >0.29 [0.19, 0.44]</text>
<line x1="394.26" y1="444.44" x2="409.32" y2="444.44" stroke="#2a2a2a" stroke-width="1.15"/>
<rect x="399.95" y="442.54" width="3.80" height="3.80" fill="#6e1030"/>
<text x="21.50" y="464.80" font-size="6.85" font-weight="bold" text-anchor="start" fill="#000" >Total (95% CI)</text>
<text x="223.00" y="464.80" font-size="6.85" font-weight="bold" text-anchor="end" fill="#000" >1422</text>
<text x="270.80" y="464.80" font-size="6.85" font-weight="bold" text-anchor="end" fill="#000" >1024</text>
<text x="332.80" y="464.80" font-size="6.85" font-weight="bold" text-anchor="end" fill="#000" >0.51 [0.42, 0.62]</text>
<polygon points="408.49,461.60 411.97,458.10 415.48,461.60 411.97,465.10" fill="#22386a"/>
<text x="22.00" y="475.20" font-size="6.7" font-weight="normal" text-anchor="start" fill="#111" style="stroke-width:0px;fill:#2a2a2a">Total events</text>
<text x="188.03" y="475.20" font-size="6.7" font-weight="normal" text-anchor="start" fill="#111" textLength="11.99" lengthAdjust="spacingAndGlyphs" >358</text>
<text x="237.13" y="475.20" font-size="6.7" font-weight="normal" text-anchor="start" fill="#111" textLength="11.99" lengthAdjust="spacingAndGlyphs" >358</text>
<text x="22" y="484.10" font-size="6.65" fill="#2a2a2a" style="stroke-width:0px">Heterogeneity: Chi<tspan font-size="4.3" dx="0.3" dy="-2.9">2</tspan><tspan dy="2.9"> = 39.73, df = 13 (P = 0.0002); I</tspan><tspan font-size="4.3" dx="0.3" dy="-2.9">2</tspan><tspan dy="2.9"> = 67%</tspan></text>
<text x="22.00" y="492.50" font-size="6.7" font-weight="normal" text-anchor="start" fill="#111" style="stroke-width:0px;fill:#2a2a2a">Test for overall effect: Z = 7.08 (P &lt; 0.00001)</text>
<line x1="424.05" y1="326.70" x2="424.05" y2="479.80" stroke="#000" stroke-width="1.3"/>
<line x1="338.20" y1="479.80" x2="509.40" y2="479.80" stroke="#111" stroke-width="1.5"/>
<line x1="341.45" y1="479.80" x2="341.45" y2="483.30" stroke="#111" stroke-width="1.2"/>
<text x="334.84" y="491.90" font-size="7.0" font-weight="normal" text-anchor="start" fill="#111" textLength="13.09" lengthAdjust="spacingAndGlyphs" >0.01</text>
<line x1="382.75" y1="479.80" x2="382.75" y2="483.30" stroke="#111" stroke-width="1.2"/>
<text x="377.94" y="491.90" font-size="7.0" font-weight="normal" text-anchor="start" fill="#111" textLength="9.18" lengthAdjust="spacingAndGlyphs" >0.1</text>
<line x1="424.05" y1="479.80" x2="424.05" y2="483.30" stroke="#111" stroke-width="1.2"/>
<text x="422.39" y="491.90" font-size="7.0" font-weight="normal" text-anchor="start" fill="#111" textLength="2.97" lengthAdjust="spacingAndGlyphs" >1</text>
<line x1="465.35" y1="479.80" x2="465.35" y2="483.30" stroke="#111" stroke-width="1.2"/>
<text x="461.92" y="491.90" font-size="7.0" font-weight="normal" text-anchor="start" fill="#111" textLength="7.03" lengthAdjust="spacingAndGlyphs" >10</text>
<line x1="506.65" y1="479.80" x2="506.65" y2="483.30" stroke="#111" stroke-width="1.2"/>
<text x="500.69" y="491.90" font-size="7.0" font-weight="normal" text-anchor="start" fill="#111" textLength="11.17" lengthAdjust="spacingAndGlyphs" >100</text>
<text x="359.61" y="504.50" font-size="8.7" font-weight="bold" text-anchor="start" fill="#111" textLength="60.11" lengthAdjust="spacingAndGlyphs" style="stroke:#111;stroke-width:0.05px">Favors [experimental]</text>
<text x="427.51" y="504.50" font-size="8.7" font-weight="bold" text-anchor="start" fill="#111" textLength="44.11" lengthAdjust="spacingAndGlyphs" style="stroke:#111;stroke-width:0.05px">Favors [control]</text>
<rect x="0.5" y="0.5" width="519" height="513" fill="none" stroke="#000" stroke-width="1"/>
<rect x="1.5" y="1.5" width="517" height="511" fill="none" stroke="#bbb" stroke-width="1"/>
</svg>
</body></html>
